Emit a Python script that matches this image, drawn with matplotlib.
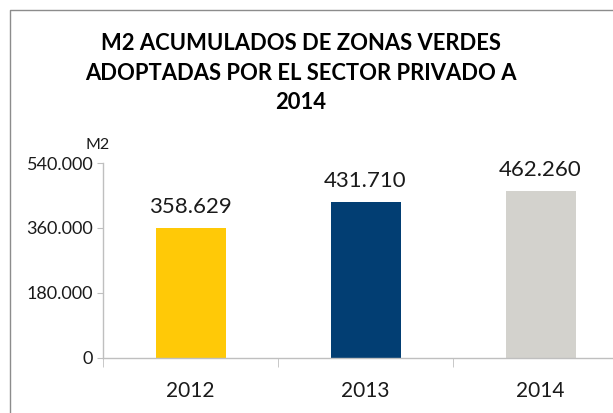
import matplotlib
matplotlib.use('Agg')
import matplotlib.pyplot as plt
from matplotlib.ticker import FuncFormatter, FixedLocator
from matplotlib.lines import Line2D

years = ['2012', '2013', '2014']
m2 = [358629, 431710, 462260]
colors = ['#FFC907', '#023E73', '#D3D2CD']
yticks = [0, 180000, 360000, 540000]

plt.rcParams['font.family'] = ['Lato', 'DejaVu Sans']

def miles(v):
    # separador de miles con punto
    return f'{int(v):,}'.replace(',', '.')

fig = plt.figure(figsize=(6.13, 4.13), dpi=100)
W, H = 613, 413
ax = fig.add_axes([103 / W, (H - 357.5) / H, 525 / W, 194.5 / H])

x = range(len(years))
ax.bar(x, m2, width=0.4, color=colors)
for i, v in zip(x, m2):
    ax.annotate(miles(v), (i, v), xytext=(0, 8), textcoords='offset points',
                ha='center', va='bottom', fontsize=16, color='#1a1a1a')

ax.set_xlim(-0.5, 2.5)
ax.set_ylim(0, 540000)
ax.set_yticks(yticks)
ax.yaxis.set_major_formatter(FuncFormatter(lambda v, p: miles(v)))
ax.set_xticks(list(x))
ax.set_xticklabels(years)
ax.xaxis.set_minor_locator(FixedLocator([-0.5, 0.5, 1.5, 2.5]))

for s in ['top', 'right']:
    ax.spines[s].set_visible(False)
for s in ['left', 'bottom']:
    ax.spines[s].set_color('#BFBFBF')
    ax.spines[s].set_linewidth(1)

ax.tick_params(axis='y', length=4, color='#BFBFBF', labelsize=13, pad=3, labelcolor='#1a1a1a')
ax.tick_params(axis='x', which='major', length=0, labelsize=15, pad=17, labelcolor='#1a1a1a')
ax.tick_params(axis='x', which='minor', length=6.5, color='#BFBFBF')

fig.text(98 / W, 1 - 145 / H, 'M2', ha='center', va='center', fontsize=11.5, color='#1a1a1a')
fig.text(301 / W, 1 - 73 / H,
         'M2 ACUMULADOS DE ZONAS VERDES\nADOPTADAS POR EL SECTOR PRIVADO A\n2014',
         ha='center', va='center', multialignment='center',
         fontsize=15.8, fontweight='bold', linespacing=1.5, color='#000000')

# marco del gráfico
fig.add_artist(Line2D([10 / W, 10 / W, 1], [0, 1 - 10 / H, 1 - 10 / H],
                      transform=fig.transFigure, color='#8C8C8C', linewidth=1))

fig.savefig('out.png', dpi=100)
